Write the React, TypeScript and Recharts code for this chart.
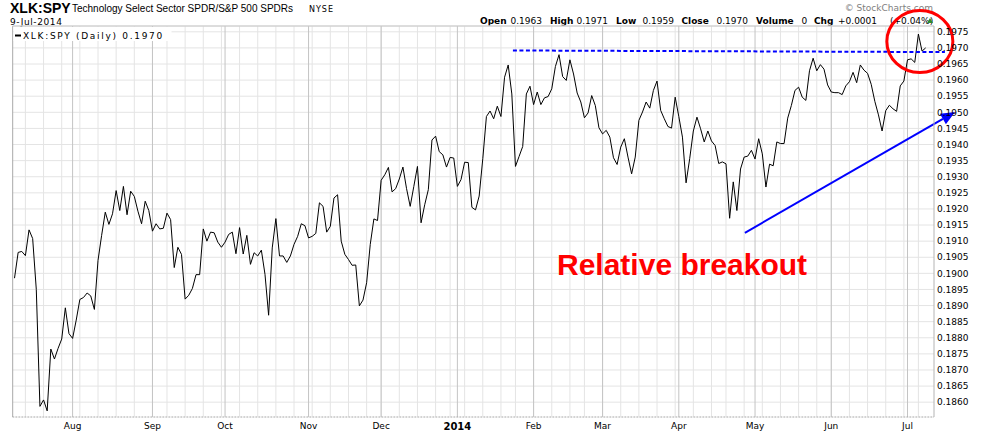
import React from 'react';
import { LineChart, Line, XAxis, YAxis, CartesianGrid, ReferenceLine, ReferenceDot } from 'recharts';

// XLK:SPY daily ratio, one array per month (trading days)
const jul2013 = [0.18985, 0.19065, 0.19068, 0.19055, 0.19135, 0.19108, 0.1895, 0.18587, 0.18607, 0.18573, 0.18765, 0.18734, 0.18767, 0.18796, 0.18893, 0.18813];
const aug2013 = [0.18798, 0.18855, 0.18919, 0.18925, 0.18939, 0.1893, 0.18888, 0.1904, 0.19118, 0.1919, 0.19152, 0.19185, 0.19257, 0.19195, 0.1927, 0.19182, 0.19255, 0.19239, 0.19193, 0.19154, 0.19224, 0.19195];
const sep2013 = [0.19131, 0.19154, 0.19138, 0.1914, 0.19187, 0.19167, 0.19018, 0.19081, 0.19059, 0.1892, 0.18932, 0.18953, 0.18996, 0.18996, 0.19138, 0.191, 0.19128, 0.19126, 0.19097, 0.19081];
const oct2013 = [0.19097, 0.19121, 0.19128, 0.19061, 0.19142, 0.1906, 0.19118, 0.19028, 0.19064, 0.19054, 0.19072, 0.18997, 0.1887, 0.19079, 0.1917, 0.19054, 0.19054, 0.19034, 0.19054, 0.1909, 0.19115, 0.19154, 0.19148];
const nov2013 = [0.1911, 0.19115, 0.19124, 0.19219, 0.19208, 0.19128, 0.19146, 0.19234, 0.19244, 0.191, 0.19059, 0.19043, 0.19025, 0.19026, 0.18899, 0.18917, 0.18971, 0.1909, 0.19169, 0.19164];
const dec2013 = [0.19289, 0.19306, 0.19329, 0.19253, 0.19263, 0.19293, 0.1933, 0.19263, 0.19208, 0.1927, 0.19332, 0.19157, 0.19213, 0.1926, 0.19414, 0.19426, 0.19378, 0.19368, 0.1933, 0.1936, 0.19358];
const jan2014 = [0.1927, 0.19291, 0.19345, 0.19344, 0.19205, 0.19197, 0.1924, 0.19356, 0.19487, 0.19504, 0.1948, 0.19519, 0.19487, 0.19609, 0.19647, 0.19557, 0.19332, 0.19363, 0.19394, 0.19557, 0.19581];
const feb2014 = [0.19524, 0.19563, 0.19524, 0.19545, 0.19549, 0.19573, 0.19642, 0.19679, 0.19611, 0.19599, 0.19663, 0.19619, 0.1956, 0.19532, 0.19483, 0.19498, 0.19552, 0.19521, 0.19452];
const mar2014 = [0.19433, 0.19444, 0.19423, 0.19359, 0.19338, 0.19392, 0.19418, 0.19361, 0.19309, 0.19361, 0.19475, 0.19501, 0.19532, 0.19513, 0.19568, 0.19597, 0.19506, 0.1948, 0.19456, 0.19451, 0.19547];
const apr2014 = [0.19487, 0.19423, 0.19281, 0.19356, 0.19442, 0.19485, 0.19449, 0.19408, 0.19442, 0.19411, 0.19397, 0.19341, 0.19346, 0.1934, 0.19171, 0.19284, 0.19195, 0.19324, 0.19361, 0.19364, 0.19382];
const may2014 = [0.19355, 0.19418, 0.19371, 0.19268, 0.19339, 0.19334, 0.19408, 0.19403, 0.19403, 0.19482, 0.19521, 0.19568, 0.19578, 0.19547, 0.19537, 0.19629, 0.19668, 0.19629, 0.19648, 0.19634, 0.19585];
const jun2014 = [0.19563, 0.19561, 0.19561, 0.19555, 0.19582, 0.19595, 0.19624, 0.19592, 0.19647, 0.19631, 0.19621, 0.19587, 0.19534, 0.19492, 0.19442, 0.19505, 0.19522, 0.19511, 0.19503, 0.19582, 0.19597];
const jul2014 = [0.19663, 0.19666, 0.19655, 0.19743, 0.1969, 0.197];

const values = [
  ...jul2013, ...aug2013, ...sep2013, ...oct2013, ...nov2013, ...dec2013,
  ...jan2014, ...feb2014, ...mar2014, ...apr2014, ...may2014, ...jun2014, ...jul2014,
];

const holidays = ['2013-09-02', '2013-11-28', '2013-12-25', '2014-01-01', '2014-01-20', '2014-02-17', '2014-04-18', '2014-05-26', '2014-07-04'];
const firstDate = '2013-07-10';
const lastDate = '2014-07-09';

const monthLabels: Record<string, string> = {
  '2013-08': 'Aug', '2013-09': 'Sep', '2013-10': 'Oct', '2013-11': 'Nov', '2013-12': 'Dec',
  '2014-01': '2014', '2014-02': 'Feb', '2014-03': 'Mar', '2014-04': 'Apr', '2014-05': 'May',
  '2014-06': 'Jun', '2014-07': 'Jul',
};

const yTicks = [0.186, 0.1865, 0.187, 0.1875, 0.188, 0.1885, 0.189, 0.1895, 0.19, 0.1905, 0.191, 0.1915, 0.192, 0.1925, 0.193, 0.1935, 0.194, 0.1945, 0.195, 0.1955, 0.196, 0.1965, 0.197, 0.1975];
const yDomain = [0.18554, 0.19768];

// annotations (in data units: trading-day index, ratio)
const resistance = [{ x: 137.3, y: 0.19692 }, { x: 256.3, y: 0.19687 }];
const trendArrow = [{ x: 201.2, y: 0.19126 }, { x: 259.1, y: 0.19501 }];
const circleCenter = { x: 249.4, y: 0.1972 };

function tradingDays(start: string, end: string): string[] {
  const out: string[] = [];
  const d = new Date(start + 'T12:00:00Z');
  const e = new Date(end + 'T12:00:00Z');
  while (d <= e) {
    const wd = d.getUTCDay();
    const s = d.toISOString().slice(0, 10);
    if (wd !== 0 && wd !== 6 && !holidays.includes(s)) out.push(s);
    d.setUTCDate(d.getUTCDate() + 1);
  }
  return out;
}

const dates = tradingDays(firstDate, lastDate);
const data = dates.map((date, i) => ({ i, date, v: values[i] }));

const monthStarts: number[] = [];
const weekStarts: number[] = [];
dates.forEach((d, i) => {
  if (i === 0) return;
  const prev = dates[i - 1];
  if (d.slice(0, 7) !== prev.slice(0, 7)) monthStarts.push(i);
  const wd = new Date(d + 'T12:00:00Z').getUTCDay();
  const pwd = new Date(prev + 'T12:00:00Z').getUTCDay();
  if (wd <= pwd) weekStarts.push(i);
});

const xDomain = [-0.5, 253.3];

const FONT = '"DejaVu Sans", Verdana, sans-serif';

const XTick = (props: any) => {
  const { x, y, payload } = props;
  const label = monthLabels[dates[payload.value].slice(0, 7)] || '';
  const bold = label === '2014';
  return (
    <text x={x} y={y} dy="0.71em" textAnchor="middle" fontFamily={FONT} fontSize={bold ? 10 : 9} fontWeight={bold ? 'bold' : 'normal'} fill="#000">
      {label}
    </text>
  );
};

const ArrowShape = (p: any) => {
  const { x1, y1, x2, y2 } = p;
  const ang = Math.atan2(y2 - y1, x2 - x1);
  const L = 14;
  const W = 6;
  const bx = x2 - L * Math.cos(ang);
  const by = y2 - L * Math.sin(ang);
  const px = -Math.sin(ang) * W;
  const py = Math.cos(ang) * W;
  return (
    <g>
      <line x1={x1} y1={y1} x2={bx} y2={by} stroke="#0000ff" strokeWidth={2} />
      <polygon points={`${x2},${y2} ${bx + px},${by + py} ${bx - px},${by - py}`} fill="#0000ff" />
    </g>
  );
};

const EllipseShape = (p: any) => (
  <ellipse cx={p.cx} cy={p.cy} rx={33} ry={31} fill="none" stroke="#ff0000" strokeWidth={3} />
);

export default function App() {
  return (
    <div style={{ position: 'absolute', left: 0, top: 0, width: 983, height: 432, background: '#fff', overflow: 'hidden' }}>
      <svg width={983} height={432} style={{ position: 'absolute', left: 0, top: 0 }}>
        <text x={10} y={12.5} fontFamily='"Liberation Sans", Arial, sans-serif' fontWeight="bold" fontSize={14} fill="#000">XLK:SPY</text>
        <text x={72} y={12} fontFamily='"Liberation Sans", Arial, sans-serif' fontSize={10} fill="#000">Technology Select Sector SPDR/S&amp;P 500 SPDRs</text>
        <text x={309} y={12} fontFamily={FONT} fontSize={8} letterSpacing={1} fill="#000">NYSE</text>
        <text x={10} y={25} fontFamily={FONT} fontSize={9} letterSpacing={0.6} fill="#000">9-Jul-2014</text>
        <text x={933} y={10.5} textAnchor="end" fontFamily={FONT} fontSize={9} fill="#808080">© StockCharts.com</text>
        <g fontFamily={FONT} fontSize={9} fill="#000">
          <text x={480} y={23.5} fontWeight="bold">Open</text>
          <text x={510.5} y={23.5}>0.1963</text>
          <text x={550} y={23.5} fontWeight="bold">High</text>
          <text x={576.5} y={23.5}>0.1971</text>
          <text x={616} y={23.5} fontWeight="bold">Low</text>
          <text x={642.5} y={23.5}>0.1959</text>
          <text x={681.5} y={23.5} fontWeight="bold">Close</text>
          <text x={716.5} y={23.5}>0.1970</text>
          <text x={756} y={23.5} fontWeight="bold">Volume</text>
          <text x={801.5} y={23.5}>0</text>
          <text x={814} y={23.5} fontWeight="bold">Chg</text>
          <text x={838} y={23.5}>+0.0001</text>
          <text x={890} y={23.5}>(+0.04%)</text>
        </g>
        <polygon points="927,23 933,23 930,18" fill="#2e8b2e" />
      </svg>
      <div style={{ position: 'absolute', left: 0, top: 0 }}>
        <LineChart width={983} height={432} data={data} margin={{ top: 26, right: 0, bottom: 0, left: 12.7 }}>
          <CartesianGrid vertical={false} stroke="#e4e4e4" />
          {weekStarts.map((i) => (
            <ReferenceLine key={'w' + i} x={i} stroke="#e4e4e4" strokeWidth={1} />
          ))}
          {monthStarts.map((i) => (
            <ReferenceLine key={'m' + i} x={i} stroke="#c4c4c4" strokeWidth={1} />
          ))}
          <ReferenceLine x={xDomain[0]} stroke="#a8a8a8" />
          <ReferenceLine y={yDomain[1]} stroke="#c8c8c8" />
          <XAxis
            dataKey="i"
            type="number"
            domain={xDomain}
            allowDataOverflow
            ticks={monthStarts}
            interval={0}
            height={15}
            tickSize={0}
            tickMargin={6}
            tickLine={false}
            axisLine={{ stroke: '#999', strokeDasharray: '1 2' }}
            tick={<XTick />}
          />
          <YAxis
            orientation="right"
            domain={yDomain}
            allowDataOverflow
            ticks={yTicks}
            interval={0}
            width={49}
            tickSize={0}
            tickMargin={3}
            tickLine={false}
            axisLine={{ stroke: '#b4b4b4' }}
            tickFormatter={(v: number) => v.toFixed(4)}
            tick={{ fontFamily: FONT, fontSize: 9, fill: '#000' }}
          />
          <Line type="linear" dataKey="v" stroke="#000" strokeWidth={1} dot={false} isAnimationActive={false} />
          <ReferenceLine segment={resistance} ifOverflow="visible" stroke="#0000ff" strokeWidth={2} strokeDasharray="4 2.5" />
          <ReferenceLine segment={trendArrow} ifOverflow="visible" shape={ArrowShape} />
          <ReferenceDot x={circleCenter.x} y={circleCenter.y} r={32} ifOverflow="visible" shape={EllipseShape} />
        </LineChart>
      </div>
      <svg width={983} height={432} style={{ position: 'absolute', left: 0, top: 0, pointerEvents: 'none' }}>
        <rect x={13.5} y={27} width={158} height={14} fill="#fff" />
        <line x1={15} y1={35.5} x2={21} y2={35.5} stroke="#000" strokeWidth={2} />
        <text x={23} y={39.3} fontFamily={FONT} fontSize={9} letterSpacing={1.7} fill="#000">XLK:SPY (Daily) 0.1970</text>
        <text x={557} y={275} fontFamily='"Liberation Sans", Arial, sans-serif' fontWeight="bold" fontSize={30} fill="#ff0000">Relative breakout</text>
      </svg>
    </div>
  );
}
